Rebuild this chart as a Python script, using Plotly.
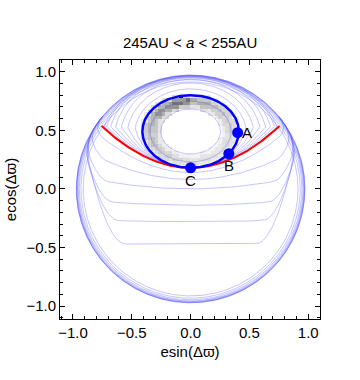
import numpy as np
import plotly.graph_objects as go

# ---- data ----
title = "245AU &lt; <i>a</i> &lt; 255AU"
tick_vals = [-1.0, -0.5, 0.0, 0.5, 1.0]
tick_text = ["\u22121.0", "\u22120.5", "0.0", "0.5", "1.0"]

# thick blue orbit (ellipse): centre and semi-axes
orbit_center = [0.0, 0.49]
orbit_axes = [0.41, 0.31]

# red separatrix: two ends and lowest point
sep_x = [-0.756, 0.0, 0.756]
sep_y = [0.537, 0.18, 0.537]
eye_top = 1.1  # top of the separatrix arc (before squeezing to the rim)

# labelled points
pt_label = ["A", "B", "C"]
pt_x = [0.40, 0.325, 0.0]
pt_y = [0.48, 0.30, 0.18]

# contour families
inner_loops = [0.62, 0.84]
outer_loops = [0.18, 0.36, 0.52, 0.66, 0.78, 0.88, 0.95]
lower_levels = [0.14, 0.08, 0.0, -0.14, -0.28, -0.47]
lower_bend = [0.85, 0.5, 0.2, 0.1, 0.04, 0.0]
lower_corner = [0.74, 0.72, 0.7, 0.66, 0.61, 0.55]
rim_radii = [0.92, 0.95, 0.98, 1.01, 1.04, 1.08, 1.12, 1.18, 1.3]

# grey histogram ring: darkness per 30 deg sector (from +x, counter-clockwise)
sector_dark = [0.2, 0.25, 0.32, 0.55, 0.42, 0.3, 0.25, 0.2, 0.17, 0.13, 0.12, 0.15]
radial_dark = [0.35, 0.75, 1.0, 0.7, 0.3]
peak_cell = [-0.09, 0.78]

line_col = "rgba(90,90,255,0.35)"

# ---- helpers ----
par = np.polyfit(sep_x, sep_y, 2)
R0, RMAX = 0.85, 0.972


def squeeze(x, y):
    r = np.hypot(x, y)
    rn = np.where(r > R0, R0 + (RMAX - R0) * np.tanh((r - R0) / (RMAX - R0)), r)
    s = np.where(r > 0, rn / np.maximum(r, 1e-9), 1)
    return x * s, y * s


# circle through separatrix ends and eye_top
k = (eye_top ** 2 - sep_x[2] ** 2 - sep_y[2] ** 2) / (2 * (eye_top - sep_y[2]))
Rk = eye_top - k

th = np.linspace(0, 2 * np.pi, 721)
cx, cy = orbit_center
a, b = orbit_axes
rE = 1 / np.sqrt((np.cos(th) / a) ** 2 + (np.sin(th) / b) ** 2)

rr = np.linspace(0, 1.6, 3201)
X = cx + np.outer(np.cos(th), rr)
Y = cy + np.outer(np.sin(th), rr)
inside = (Y >= np.polyval(par, X)) & (np.hypot(X, Y - k) <= Rk)
rS = rr[np.argmin(inside, axis=1) - 1]

fig = go.Figure()

# grey ring
g = np.arange(-1.1, 1.1001, 0.03)
GX, GY = np.meshgrid(g, g)
rho = np.sqrt(((GX - cx) / a) ** 2 + ((GY - cy) / b) ** 2)
ang = np.mod(np.arctan2((GY - cy) / b, (GX - cx) / a), 2 * np.pi)
sec = np.array(sector_dark)[(ang / (np.pi / 6)).astype(int) % 12]
lo, hi = 0.62, 1.05
band = np.clip(((rho - lo) / (hi - lo) * len(radial_dark)).astype(int), 0, len(radial_dark) - 1)
Z = sec * np.array(radial_dark)[band]
Z = np.where((rho >= lo) & (rho <= hi), Z, np.nan)
iy = np.argmin(np.abs(g - peak_cell[1]))
ix = np.argmin(np.abs(g - peak_cell[0]))
Z[iy, ix] = 1.0
fig.add_trace(go.Heatmap(x=g, y=g, z=Z, zmin=0, zmax=1,
                         colorscale=[[0, "white"], [1, "black"]],
                         showscale=False, hoverinfo="skip"))


def add_line(x, y):
    x, y = squeeze(np.asarray(x), np.asarray(y))
    fig.add_trace(go.Scatter(x=x, y=y, mode="lines",
                             line=dict(color=line_col, width=1),
                             hoverinfo="skip", showlegend=False))


# rim
for r in rim_radii:
    add_line(r * np.cos(th), r * np.sin(th))

# loops inside the orbit
for t in inner_loops:
    add_line(cx + t * rE * np.cos(th), cy + t * rE * np.sin(th))

# loops between orbit and separatrix
for t in outer_loops:
    r = rE + t * (rS - rE)
    add_line(cx + r * np.cos(th), cy + r * np.sin(th))

# lines below the separatrix: flat middle, arms bending up into the rim
xs = np.linspace(-1.4, 1.4, 1201)
for i, (y0, w, xc) in enumerate(zip(lower_levels, lower_bend, lower_corner)):
    y = y0 + w * par[0] * xs ** 2 + 7 * np.maximum(np.abs(xs) - xc, 0) ** 2
    y = np.minimum(y, np.polyval(par, xs) - 0.012 * (i + 1))
    keep = np.hypot(xs, y) < 1.45
    add_line(xs[keep], y[keep])

# red separatrix
xr = np.linspace(sep_x[0], sep_x[2], 200)
fig.add_trace(go.Scatter(x=xr, y=np.polyval(par, xr), mode="lines",
                         line=dict(color="red", width=2), hoverinfo="skip",
                         showlegend=False))

# blue orbit
fig.add_trace(go.Scatter(x=cx + a * np.cos(th), y=cy + b * np.sin(th), mode="lines",
                         line=dict(color="rgb(0,0,255)", width=2.5),
                         hoverinfo="skip", showlegend=False))

# points
fig.add_trace(go.Scatter(x=pt_x, y=pt_y, mode="markers",
                         marker=dict(color="rgb(0,0,255)", size=11),
                         hoverinfo="skip", showlegend=False))
offs = {"A": (0.08, 0.0), "B": (0.0, -0.1), "C": (0.0, -0.11)}
for lab, px, py in zip(pt_label, pt_x, pt_y):
    dx, dy = offs[lab]
    fig.add_annotation(x=px + dx, y=py + dy, text=lab, showarrow=False,
                       font=dict(size=15, color="black"))

ax = dict(range=[-1.11, 1.1], tickvals=tick_vals, ticktext=tick_text,
          ticks="inside", ticklen=5, tickcolor="black", mirror="allticks",
          showline=True, linecolor="black", linewidth=1, showgrid=False,
          zeroline=False, tickfont=dict(size=15, color="black"),
          automargin=False,
          minor=dict(ticks="inside", ticklen=3, dtick=0.1, tick0=0,
                     tickcolor="black", showgrid=False))

fig.update_layout(
    width=360, height=380,
    margin=dict(l=60, r=40, t=60, b=61),
    paper_bgcolor="white", plot_bgcolor="white",
    font=dict(family="Liberation Sans, Arial", color="black"),
    title=dict(text=title, x=0.528, xanchor="center", y=0.887, yanchor="middle",
               font=dict(size=15, color="black")),
    xaxis=dict(ax, title=dict(text="esin(\u0394\u03d6)", font=dict(size=15), standoff=6)),
    yaxis=dict(ax, title=dict(text="ecos(\u0394\u03d6)", font=dict(size=15), standoff=6)),
)

fig.write_html("out.html", config={"displayModeBar": False},
               post_script="document.body.style.margin='0';")
